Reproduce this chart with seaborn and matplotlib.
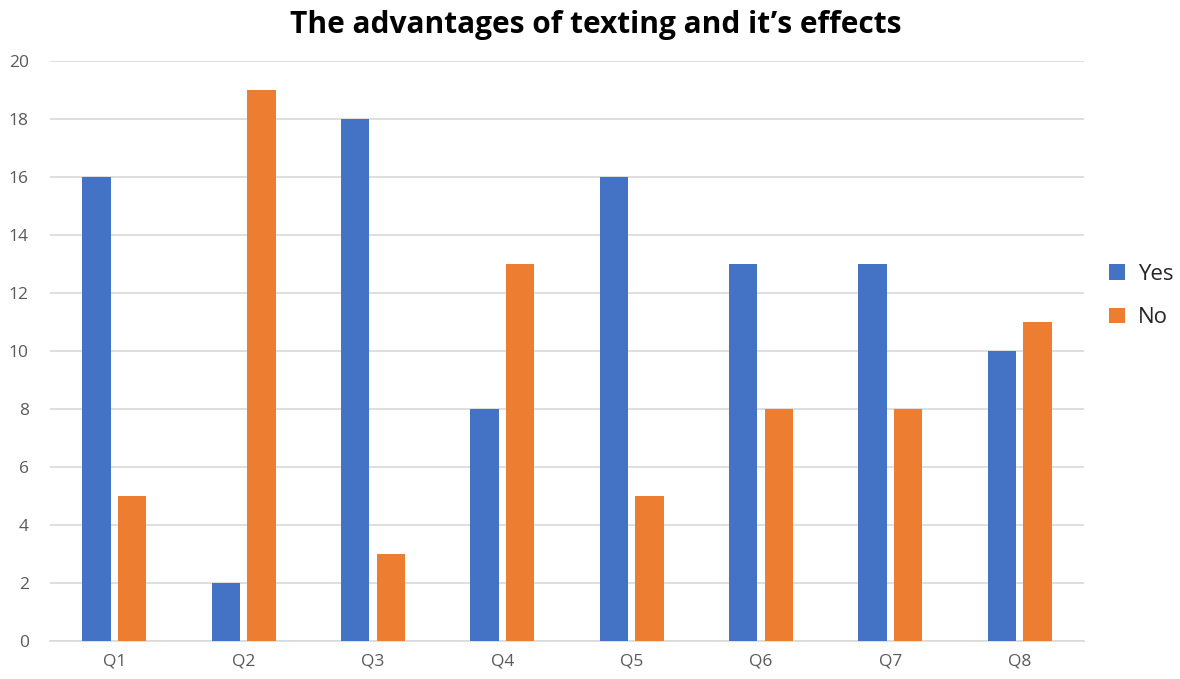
import pandas as pd
import numpy as np
import seaborn as sns
import matplotlib.pyplot as plt

## Data
questions = ['Q1', 'Q2', 'Q3', 'Q4', 'Q5', 'Q6', 'Q7', 'Q8']
yes = [16, 2, 18, 8, 16, 13, 13, 10]
no = [5, 19, 3, 13, 5, 8, 8, 11]

df = pd.DataFrame({'question': questions * 2,
                   'answer': ['Yes'] * len(questions) + ['No'] * len(questions),
                   'count': yes + no})

sns.set_style('white')
plt.rcParams['font.family'] = ['Open Sans', 'DejaVu Sans']

fig = plt.figure(figsize=(11.8, 6.79), dpi=100)
ax = fig.add_axes([0.042, 0.056, 0.877, 0.854])

sns.barplot(data=df, x='question', y='count', hue='answer',
            palette={'Yes': '#4472C4', 'No': '#ED7D31'}, saturation=1,
            width=0.55, gap=0.2, linewidth=0, ax=ax, zorder=3)

ax.set_ylim(0, 20)
ax.set_yticks(range(0, 21, 2))
ax.yaxis.grid(True, color='#D9D9D9', linewidth=1.2, zorder=0)
ax.set_axisbelow(True)
ax.set_xlim(-0.5, 7.5)
for s in ['top', 'right', 'left']:
    ax.spines[s].set_visible(False)
ax.spines['bottom'].set_color('#D9D9D9')
ax.spines['bottom'].set_linewidth(1.2)
ax.tick_params(axis='both', length=0, labelsize=12.5, labelcolor='#595959')
ax.tick_params(axis='x', pad=9)
ax.tick_params(axis='y', pad=15)
ax.set_xlabel('')
ax.set_ylabel('')

ax.set_title('The advantages of texting and it\u2019s effects', fontsize=21.5,
             fontweight='bold', color='black', pad=20, x=0.528)

ax.legend(loc='center left', bbox_to_anchor=(1.024, 0.595), frameon=False,
          fontsize=16, handlelength=0.7, handleheight=0.7, labelspacing=1.0,
          handletextpad=0.6, borderpad=0, borderaxespad=0)

plt.savefig('out.png', dpi=100)
